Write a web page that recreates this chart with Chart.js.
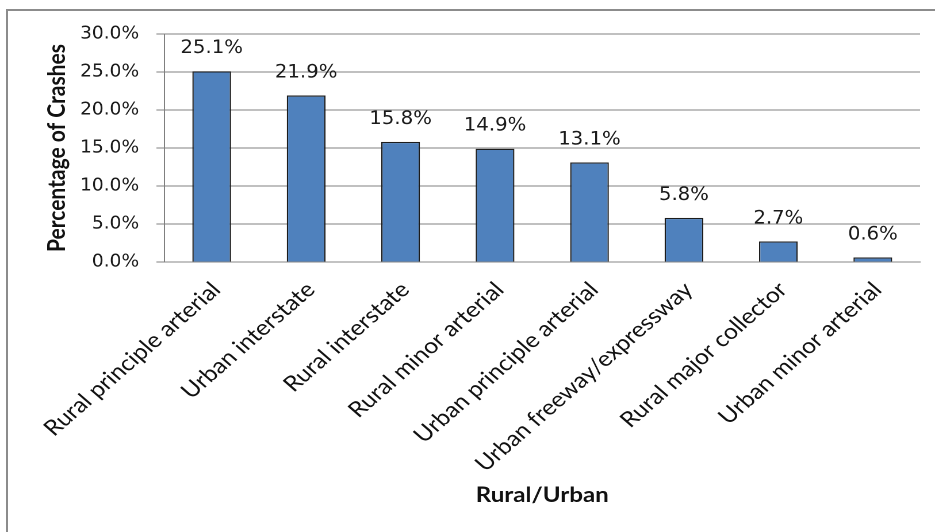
<!DOCTYPE html>
<html>
<head>
<meta charset="utf-8">
<script src="https://cdn.jsdelivr.net/npm/chart.js@4/dist/chart.umd.min.js"></script>
<style>
    html, body { margin: 0; padding: 0; background: #fff; overflow: hidden; }
    #frame {
        position: absolute;
        left: 6px;
        top: 9px;
        width: 940px;
        height: 540px;
        border: 2px solid #8c8c8c;
    }
    #crashChart { position: absolute; left: 0; top: 0; }
</style>
</head>
<body>
<div id="frame"></div>
<canvas id="crashChart" width="813" height="532" style="width:935px;height:532px"></canvas>
<script>
const roadTypes = [
    "Rural principle arterial",
    "Urban interstate",
    "Rural interstate",
    "Rural minor arterial",
    "Urban principle arterial",
    "Urban freeway/expressway",
    "Rural major collector",
    "Urban minor arterial",
];
const crashShares = [25.1, 21.9, 15.8, 14.9, 13.1, 5.8, 2.7, 0.6];
const yTicks = [0, 5, 10, 15, 20, 25, 30];

const numberFont = '"DejaVu Sans Condensed", "Liberation Sans", sans-serif';
const labelFont = 'Lato, "Open Sans", sans-serif';

/**
 * writes the percentage above each bar
 */
const barValueLabels = {
    id: "barValueLabels",
    afterDatasetsDraw(chart) {
        const ctx = chart.ctx;
        const meta = chart.getDatasetMeta(0);
        ctx.save();
        ctx.font = "19px " + numberFont;
        ctx.fillStyle = "#1a1a1a";
        ctx.textAlign = "center";
        ctx.textBaseline = "middle";
        meta.data.forEach((bar, i) => {
            ctx.fillText(crashShares[i].toFixed(1) + "%", bar.x, bar.y - 23);
        });
        ctx.restore();
    },
};

const data = {
    labels: roadTypes,
    datasets: [
        {
            data: crashShares,
            backgroundColor: "#4f81bd",
            borderColor: "#1c1c1c",
            borderWidth: 1.2,
            barPercentage: 0.41,
            categoryPercentage: 1,
        },
    ],
};

const config = {
    type: "bar",
    data: data,
    plugins: [barValueLabels],
    options: {
        responsive: false,
        devicePixelRatio: 2,
        animation: false,
        layout: {
            padding: { top: 34, right: 13, bottom: 0, left: 0 },
        },
        plugins: {
            legend: { display: false },
            tooltip: { enabled: false },
        },
        scales: {
            x: {
                grid: { display: false, drawTicks: false },
                border: { display: true, color: "#868686", width: 1 },
                ticks: {
                    color: "#111",
                    font: { family: labelFont, size: 21.5 },
                    minRotation: 45,
                    maxRotation: 45,
                    autoSkip: false,
                    padding: 15,
                    labelOffset: 4,
                },
                title: {
                    display: true,
                    text: "Rural/Urban",
                    color: "#111",
                    font: { family: labelFont, size: 21, weight: "bold" },
                    padding: { top: 0, bottom: 24 },
                },
                afterFit(scale) {
                    // keep the plot area fixed, labels may run into the margin
                    scale.height = 270;
                    scale.paddingLeft = 0;
                    scale.paddingRight = 0;
                },
            },
            y: {
                min: 0,
                max: 30,
                afterBuildTicks(scale) {
                    scale.ticks = yTicks.map((v) => ({ value: v }));
                },
                grid: { color: "#808080", lineWidth: 1, tickLength: 7 },
                border: { color: "#808080", width: 1 },
                ticks: {
                    color: "#1a1a1a",
                    padding: 15,
                    font: { family: numberFont, size: 18 },
                    callback: (v) => v.toFixed(1) + "%",
                },
                title: {
                    display: true,
                    text: "Percentage of Crashes",
                    color: "#111",
                    font: { family: labelFont, size: 21, weight: "bold" },
                    padding: { top: 37, bottom: 0 },
                },
                afterFit(scale) {
                    scale.width = 143;
                },
            },
        },
    },
};

new Chart(document.getElementById("crashChart"), config);
</script>
</body>
</html>
